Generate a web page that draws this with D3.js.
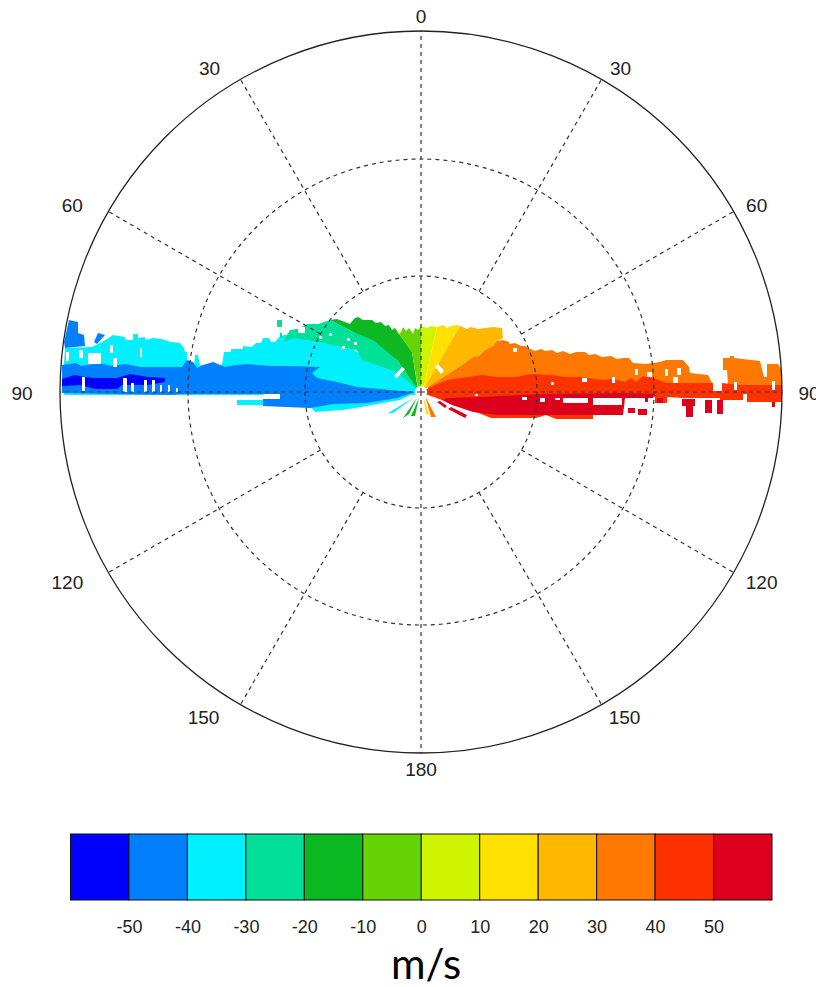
<!DOCTYPE html>
<html>
<head>
<meta charset="utf-8">
<script src="https://cdn.jsdelivr.net/npm/d3@7"></script>
<style>
  html, body { margin: 0; padding: 0; background: #fff; overflow: hidden; }
  text { font-family: "Liberation Sans", sans-serif; fill: #222; }
</style>
</head>
<body>
<div id="vis"></div>
<script>
// colour scale
const levels = [-50, -40, -30, -20, -10, 0, 10, 20, 30, 40, 50];
const levelColors = ['#0000ff', '#0080ff', '#00f0ff', '#02e097', '#0ab822', '#66d404',
                     '#d0f400', '#ffe000', '#ffb800', '#ff7800', '#ff3000', '#dc001e'];

// grid
const angles = [0, 30, 60, 90, 120, 150, 180];
const rings = [116, 233];
const outerRange = 361;

// echo outlines, [across, height] in range gates from the radar
const cyanMain = [[-357,27],[-356,44],[-329,45],[-323,48],[-314,53],[-308,57],[-296,55],[-296,52],[-288,52],[-288,58],[-283,58],[-283,54],[-276,55],[-276,52],[-268,54],[-259,53],[-250,50],[-241,49],[-237,44],[-236,40],[-234,40],[-234,24],[-227,24],[-226,37],[-223,37],[-221,27],[-199,27],[-197,40],[-190,40],[-190,43],[-178,43],[-178,46],[-169,45],[-165,49],[-160,49],[-158,54],[-152,54],[-150,50],[-146,50],[-141,56],[-121,60],[-101,56],[-78,50],[-58,36],[-31,28],[-3,2],[-3,-3],[-357,-3]];
const cyanLower = [[-111,-14],[-106,-20],[-78,-18],[-60,-15],[-21,-8],[-6,-1],[-60,-9]];
const cyanStrip = [[-184,-8],[-158,-8],[-158,-13],[-184,-13]];
const cyanRay = [[-33,-21],[-28,-21],[-6,-5]];
const blueMain = [[-359,27],[-345,29],[-340,26],[-321,29],[-310,26],[-295,28],[-281,25],[-239,25],[-234,32],[-228,30],[-224,24],[-218,27],[-208,30],[-196,25],[-185,27],[-174,28],[-150,26],[-131,26],[-101,25],[-109,19],[-104,14],[-84,10],[-64,5],[-31,2],[-6,0],[-24,-6],[-54,-11],[-88,-12],[-111,-16],[-158,-14],[-158,-2],[-240,-2],[-250,-3],[-359,-1]];
const blueTuft = [[-352,72],[-343,70],[-343,59],[-337,57],[-336,46],[-356,44],[-357,50]];
const blueTuft2 = [[-323,59],[-316,57],[-324,48],[-327,50]];
const darkBlue = [[-359,13],[-346,17],[-336,15],[-328,14],[-304,14],[-291,18],[-273,15],[-256,14],[-256,10],[-273,7],[-299,7],[-304,3],[-326,3],[-341,7],[-359,6]];
const green = [[-91,72],[-84,73],[-76,70],[-71,68],[-68,72],[-66,74],[-63,75],[-58,72],[-49,72],[-45,69],[-40,70],[-36,66],[-32,67],[-29,62],[-26,64],[-9,40],[-3,2],[-24,32],[-68,60]];
const greenRay = [[-18,-26],[-12,-22],[-4,-6]];
const greenRay2 = [[-10,-24],[-6,-24],[-2,-6]];
const teal = [[-134,57],[-131,62],[-124,63],[-114,68],[-103,68],[-91,72],[-81,67],[-68,60],[-58,56],[-48,52],[-36,42],[-24,32],[-1,0],[-24,20],[-59,32],[-64,42],[-98,49],[-126,54],[-138,50]];
const tealTuft = [[-144,72],[-139,72],[-139,65],[-144,65]];
const tealTuft2 = [[-141,59],[-139,59],[-139,54],[-141,54]];
const lime = [[-26,64],[-23,57],[-20,60],[-18,65],[-15,61],[-12,64],[-8,58],[-6,64],[-3,62],[0,66],[0,0],[-3,4],[-9,40]];
const yellowGreen = [[0,66],[6,64],[10,66],[16,65],[2,2],[0,0]];
const yellow = [[16,65],[22,67],[26,64],[30,66],[36,67],[39,66],[2,2]];
const yellowRay = [[2,-4],[5,-22],[8,-22]];
const amber = [[39,66],[46,63],[50,65],[57,63],[64,64],[72,65],[81,64],[82,54],[76,51],[72,46],[64,42],[58,36],[52,35],[41,27],[7,5],[2,2]];
const orange = [[7,5],[41,27],[52,35],[58,36],[64,42],[72,46],[76,51],[82,52],[88,50],[88,48],[94,49],[100,46],[104,46],[107,44],[114,41],[120,43],[124,41],[131,42],[136,39],[142,41],[149,38],[155,40],[164,40],[168,37],[174,38],[181,35],[190,36],[196,33],[202,34],[208,34],[212,29],[225,28],[232,29],[239,30],[245,32],[262,32],[268,25],[269,19],[287,17],[291,9],[291,3],[7,1]];
const orange2 = [[302,34],[309,34],[309,36],[313,36],[313,34],[339,31],[343,15],[346,15],[346,28],[357,28],[361,22],[361,7],[307,7],[306,22],[302,22]];
const orangeRay = [[4,-4],[10,-25],[15,-25]];
const red = [[4,2],[14,7],[27,12],[40,14],[61,17],[75,15],[94,15],[110,18],[131,17],[145,15],[160,15],[181,12],[190,13],[204,10],[210,14],[215,10],[222,16],[227,15],[232,14],[240,11],[246,9],[292,9],[292,1],[301,1],[301,9],[319,7],[361,7],[361,-10],[326,-10],[326,-2],[322,-2],[322,-8],[299,-8],[299,-6],[262,-6],[246,-5],[246,-11],[234,-11],[234,-5],[204,-6],[60,-10],[21,-8],[4,-2]];
const redFringe = [[55,-20],[70,-26],[115,-26],[125,-23],[135,-27],[172,-27],[172,-21]];
const crimson = [[21,-8],[27,-6],[61,-5],[124,-2],[204,-1],[232,-2],[232,-6],[204,-6],[202,-23],[77,-23],[52,-20],[31,-13]];
const crimsonStreak = [[16,-10],[19,-9],[26,-14],[24,-16]];
const crimsonStreak2 = [[27,-17],[30,-15],[46,-23],[44,-26]];

// isolated crimson gates, [x0, y0, x1, y1]
const crimsonGates = [[207,-16,214,-21],[217,-17,226,-23],[224,-5,227,-10],[236,-6,242,-11],[261,-7,274,-14],[265,-14,272,-25],[284,-8,291,-21],[296,-8,302,-22],[351,-10,354,-15]];

// missing gates, [x0, y0, x1, y1]
const missingGates = [
  [-355,40,-352,31],[-342,42,-338,34],[-333,39,-320,28],[-311,47,-308,39],[-308,34,-304,25],[-281,44,-279,35],
  [-339,15,-336,1],[-298,14,-294,0],[-290,9,-287,0],[-277,12,-274,0],[-269,12,-266,0],[-261,7,-259,0],[-253,7,-251,0],[-245,4,-243,0],
  [-158,-2,-141,-7],[-123,65,-116,59],[-74,54,-71,51],[-67,50,-64,47],[-79,46,-76,43],[-92,59,-89,56],[-102,56,-99,53],
  [92,44,96,40],[101,-5,106,-8],[120,-6,123,-9],[54,-2,57,-4],
  [134,-6,139,-8],[142,-6,167,-11],[172,-6,201,-13],[119,-6,124,-10],
  [191,15,194,9],[214,23,217,17],[226,20,231,15],[244,23,247,16],[256,24,260,17],[252,15,257,9],[313,10,316,2],[351,11,354,2],
  [161,14,166,10],[130,10,133,7]
];
const whiteSlashes = [
  [[-19,25],[-16,23],[-24,14],[-27,16]],
  [[14,25],[17,28],[23,21],[20,18]]
];

const color = d3.scaleThreshold().domain(levels).range(levelColors);

// paint order, back to front. v is the speed of the band in m/s
const bands = [
  {v: -35, pts: cyanMain}, {v: -35, pts: cyanLower}, {v: -35, pts: cyanStrip}, {v: -35, pts: cyanRay},
  {v: -45, pts: blueMain}, {v: -45, pts: blueTuft}, {v: -45, pts: blueTuft2},
  {v: -55, pts: darkBlue},
  {v: -15, pts: green}, {v: -15, pts: greenRay}, {v: -15, pts: greenRay2},
  {v: -25, pts: teal}, {v: -25, pts: tealTuft}, {v: -25, pts: tealTuft2},
  {v: -5, pts: lime}, {v: 5, pts: yellowGreen}, {v: 15, pts: yellow}, {v: 15, pts: yellowRay},
  {v: 25, pts: amber}, {v: 35, pts: orange}, {v: 35, pts: orange2}, {v: 35, pts: orangeRay},
  {v: 45, pts: red}, {v: 45, pts: redFringe},
  {v: 55, pts: crimson}, {v: 55, pts: crimsonStreak}, {v: 55, pts: crimsonStreak2}
];

const box = b => [[b[0],b[1]],[b[2],b[1]],[b[2],b[3]],[b[0],b[3]]];

const width = 816, height = 987;
const svg = d3.select('#vis').append('svg')
  .attr('width', width)
  .attr('height', height);

const x = d3.scaleLinear().domain([-outerRange, outerRange]).range([60, 782]);
const y = d3.scaleLinear().domain([-outerRange, outerRange]).range([753, 31]);
const r = d3.scaleLinear().domain([0, outerRange]).range([0, 361]);

const defs = svg.append('defs');
defs.append('clipPath').attr('id', 'disc')
  .append('circle').attr('cx', x(0)).attr('cy', y(0)).attr('r', r(outerRange));
defs.append('filter').attr('id', 'soft')
  .append('feGaussianBlur').attr('stdDeviation', 0.6);
defs.append('clipPath').attr('id', 'cut60')
  .append('rect').attr('x', 0).attr('y', 0).attr('width', width).attr('height', 213);

const outline = d3.line().x(d => x(d[0])).y(d => y(d[1]));

// echoes
const echoes = svg.append('g')
  .attr('clip-path', 'url(#disc)')
  .append('g')
  .attr('filter', 'url(#soft)');

echoes.selectAll('path.band')
  .data(bands)
  .join('path')
    .attr('class', 'band')
    .attr('d', d => outline(d.pts) + 'Z')
    .attr('fill', d => color(d.v));

echoes.selectAll('path.gate')
  .data(crimsonGates)
  .join('path')
    .attr('class', 'gate')
    .attr('d', d => outline(box(d)) + 'Z')
    .attr('fill', color(55));

echoes.selectAll('path.missing')
  .data(missingGates.map(box).concat(whiteSlashes))
  .join('path')
    .attr('class', 'missing')
    .attr('d', d => outline(d) + 'Z')
    .attr('fill', '#fff');

echoes.append('circle')
  .attr('cx', x(0))
  .attr('cy', y(0))
  .attr('r', r(6))
  .attr('fill', '#fff');

// grid
const grid = svg.append('g')
  .attr('fill', 'none')
  .attr('stroke', '#333')
  .attr('stroke-width', 1.2);

grid.selectAll('circle.ring')
  .data(rings)
  .join('circle')
    .attr('class', 'ring')
    .attr('cx', x(0))
    .attr('cy', y(0))
    .attr('r', d => r(d))
    .attr('stroke-dasharray', '4,4');

const spokes = [];
angles.forEach(a => {
  spokes.push({a: a, side: 1});
  if (a > 0 && a < 180) spokes.push({a: a, side: -1});
});

grid.selectAll('line')
  .data(spokes)
  .join('line')
    .attr('x1', d => x(d.side * (d.a % 90 ? rings[0] : 0) * Math.sin(d.a * Math.PI / 180)))
    .attr('y1', d => y((d.a % 90 ? rings[0] : 0) * Math.cos(d.a * Math.PI / 180)))
    .attr('x2', d => x(d.side * outerRange * Math.sin(d.a * Math.PI / 180)))
    .attr('y2', d => y(outerRange * Math.cos(d.a * Math.PI / 180)))
    .attr('stroke-dasharray', '4,4');

grid.append('circle')
  .attr('cx', x(0))
  .attr('cy', y(0))
  .attr('r', r(outerRange))
  .attr('stroke', '#222')
  .attr('stroke-width', 1.3);

// angle labels, nudged off the rim
const nudge = {
  0: {l: [0, 0], r: [0, -15]},
  30: {l: [-31, -11], r: [19, -11]},
  60: {l: [-36, -6], r: [23, -6]},
  90: {l: [-38, 1], r: [27, 1]},
  120: {l: [-41, 10], r: [28, 10]},
  150: {l: [-37, 13], r: [23, 13]},
  180: {l: [0, 0], r: [0, 16]}
};

svg.selectAll('text.angle')
  .data(spokes)
  .join('text')
    .attr('class', 'angle')
    .attr('x', d => x(d.side * outerRange * Math.sin(d.a * Math.PI / 180)) + nudge[d.a][d.side > 0 ? 'r' : 'l'][0])
    .attr('y', d => y(outerRange * Math.cos(d.a * Math.PI / 180)) + nudge[d.a][d.side > 0 ? 'r' : 'l'][1])
    .attr('text-anchor', 'middle')
    .attr('dominant-baseline', 'central')
    .attr('font-size', '19px')
    .attr('clip-path', d => d.a === 60 ? 'url(#cut60)' : null)
    .text(d => d.a);

// colour bar
const barX = d3.scaleLinear().domain([-60, 60]).range([70.5, 772]);
const barTop = 834, barHeight = 66;
const bar = svg.append('g');
const edges = [-60].concat(levels, [60]);

bar.selectAll('rect')
  .data(d3.pairs(edges))
  .join('rect')
    .attr('x', d => barX(d[0]))
    .attr('y', barTop)
    .attr('width', d => barX(d[1]) - barX(d[0]))
    .attr('height', barHeight)
    .attr('fill', d => color(d[0]))
    .attr('stroke', '#111')
    .attr('stroke-width', 1);

const barAxis = d3.axisBottom(barX)
  .tickValues(levels)
  .tickFormat(d => String(d))
  .tickSize(0)
  .tickPadding(20);

bar.append('g')
  .attr('transform', `translate(0, ${barTop + barHeight})`)
  .call(barAxis)
  .call(g => g.select('.domain').remove())
  .selectAll('text')
    .attr('font-family', '"Liberation Sans", sans-serif')
    .attr('font-size', '18px')
    .style('fill', '#222');

svg.append('text')
  .attr('x', 426)
  .attr('y', 979)
  .attr('text-anchor', 'middle')
  .attr('font-size', '42px')
  .style('font-family', 'Lato, sans-serif')
  .style('fill', '#000')
  .text('m/s');
</script>
</body>
</html>
